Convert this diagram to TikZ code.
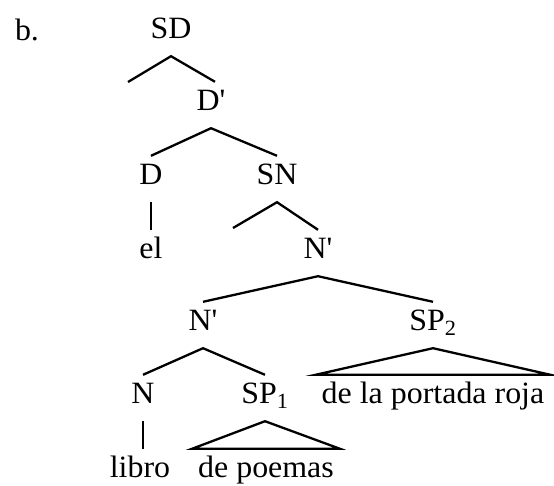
\documentclass[tikz,border=0pt]{standalone}
\usepackage{fontspec}
\setmainfont{Liberation Serif}[FakeStretch=1.03]
\newcommand{\prm}{\textquotesingle}
\begin{document}
\begin{tikzpicture}[x=1pt,y=-1pt,
  lbl/.style={anchor=base, inner sep=0pt, text height=28pt, text depth=18pt,
    font=\fontsize{31}{36}\selectfont},
  leaf/.style={lbl, inner xsep=6pt},
  branch/.style={line width=2.3pt}]
\useasboundingbox (0,0) rectangle (554,485);

% labels
\node[lbl] (b) at (27,40) {b.};
\node[lbl] (SD) at (171,38) {SD};
\node[lbl] (Dp) at (211,110) {D\prm};
\node[lbl] (D) at (151,184) {D};
\node[lbl] (SN) at (277,184) {SN};
\node[lbl] (el) at (151,258) {el};
\node[lbl] (Np1) at (318,258) {N\prm};
\node[lbl] (Np2) at (203,330) {N\prm};
\node[lbl] (SP2) at (433,330) {SP\textsubscript{2}};
\node[lbl] (N) at (143,403) {N};
\node[lbl] (SP1) at (265,403) {SP\textsubscript{1}};
\node[leaf] (roja) at (433,403) {de la portada roja};
\node[lbl] (libro) at (140,477) {libro};
\node[leaf] (poemas) at (266,477) {de poemas};

% empty specifier positions
\coordinate (spec1) at (128,82);
\coordinate (spec2) at (233,228);

% branches
\draw[branch] (spec1) -- (SD.south) -- ([xshift=4pt]Dp.north);
\draw[branch] (D.north) -- (Dp.south) -- (SN.north);
\draw[branch] (D.south) -- (D.south |- el.north);
\draw[branch] (spec2) -- (SN.south) -- (Np1.north);
\draw[branch] (Np2.north) -- (Np1.south) -- (SP2.north);
\draw[branch] (N.north) -- (Np2.south) -- (SP1.north);
\draw[branch] (N.south) -- (N.south |- libro.north);

% triangles over unanalysed phrases
\draw[branch] (SP2.south) -- (roja.north west) -- (roja.north east) -- cycle;
\draw[branch] (SP1.south) -- (poemas.north west) -- (poemas.north east) -- cycle;
\end{tikzpicture}
\end{document}
